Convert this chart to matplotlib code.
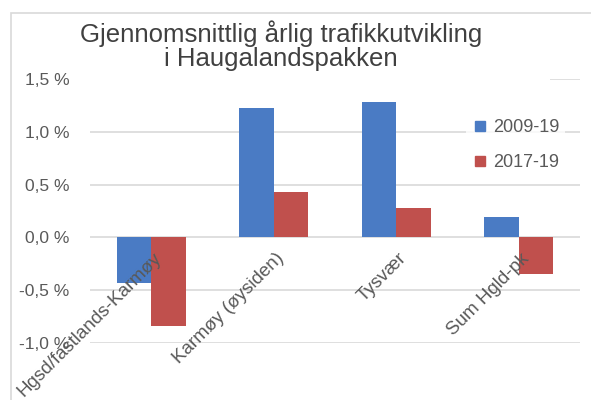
import matplotlib.pyplot as plt
import matplotlib.transforms as mtransforms
from matplotlib.patches import Rectangle
from matplotlib.lines import Line2D
import numpy as np

categories = ["Hgsd/fastlands-Karmøy", "Karmøy (øysiden)", "Tysvær", "Sum Hgld-pk"]
series_names = ["2009-19", "2017-19"]
vals_2009_19 = [-0.43, 1.23, 1.28, 0.19]
vals_2017_19 = [-0.84, 0.43, 0.28, -0.35]
y_ticks = [-1.0, -0.5, 0.0, 0.5, 1.0, 1.5]

blue = "#4A7BC4"
red = "#C0504D"
txt = "#595959"

plt.rcParams['font.family'] = ['Liberation Sans', 'DejaVu Sans']

fig = plt.figure(figsize=(5.91, 4.0), dpi=100)
ax = fig.add_axes([90 / 591, 1 - 343 / 400, 490 / 591, 264 / 400])

# outer chart border (light gray, runs off the right/bottom edges)
fig.patches.append(Rectangle((11 / 591, -0.2), 1.2, 0.2 + (400 - 13) / 400,
                             transform=fig.transFigure, fill=False,
                             edgecolor="#D9D9D9", linewidth=1.2, zorder=0))

x = np.arange(len(categories))
w = 0.28
ax.bar(x - w / 2, vals_2009_19, w, color=blue, zorder=2)
ax.bar(x + w / 2, vals_2017_19, w, color=red, zorder=2)

ax.set_xlim(-0.5, len(categories) - 0.5)
ax.set_ylim(-1.0, 1.5)
ax.set_yticks(y_ticks)
ax.set_yticklabels([f"{v:.1f} %".replace(".", ",") for v in y_ticks])
ax.yaxis.grid(True, color="#D9D9D9", linewidth=1.2)
# gridlines under the bars, category labels over them
ax.yaxis.set_zorder(0.5)
ax.xaxis.set_zorder(5)

for s in ["top", "right", "left"]:
    ax.spines[s].set_visible(False)
ax.spines["bottom"].set_position(("data", 0))
ax.spines["bottom"].set_color("none")

ax.tick_params(axis="y", length=0, pad=15, labelsize=12.5, labelcolor=txt)
ax.tick_params(axis="x", length=0, pad=9, labelsize=13.5, labelcolor=txt)
ax.set_xticks(x)
ax.set_xticklabels(categories, rotation=45, ha="right", va="top",
                   rotation_mode="anchor")
offset = mtransforms.ScaledTranslation(2 / 100, 0, fig.dpi_scale_trans)
for lbl in ax.get_xticklabels():
    lbl.set_transform(lbl.get_transform() + offset)

# title area box hides the top gridline up to x~550
ax.add_patch(Rectangle((84 / 591, 1 - 86 / 400), (550 - 84) / 591, 14 / 400,
                       transform=fig.transFigure, facecolor="white",
                       edgecolor="none", clip_on=False, zorder=1))
fig.text(281 / 591, 1 - 46 / 400,
         "Gjennomsnittlig årlig trafikkutvikling\ni Haugalandspakken",
         ha="center", va="center", fontsize=18.5, color="#404040",
         linespacing=1.0, zorder=5)

handles = [Line2D([], [], marker="s", linestyle="none", markersize=7,
                  color=c) for c in (blue, red)]
leg = ax.legend(handles, series_names, loc="center left",
                bbox_to_anchor=(466 / 591, 1 - 145 / 400),
                bbox_transform=fig.transFigure, frameon=True,
                fontsize=13, handlelength=0.9, handletextpad=0.3,
                labelspacing=1.0, borderpad=0.3, borderaxespad=0)
leg.get_frame().set_facecolor("white")
leg.get_frame().set_edgecolor("none")
for t in leg.get_texts():
    t.set_color(txt)

fig.savefig("out.png", dpi=100)
